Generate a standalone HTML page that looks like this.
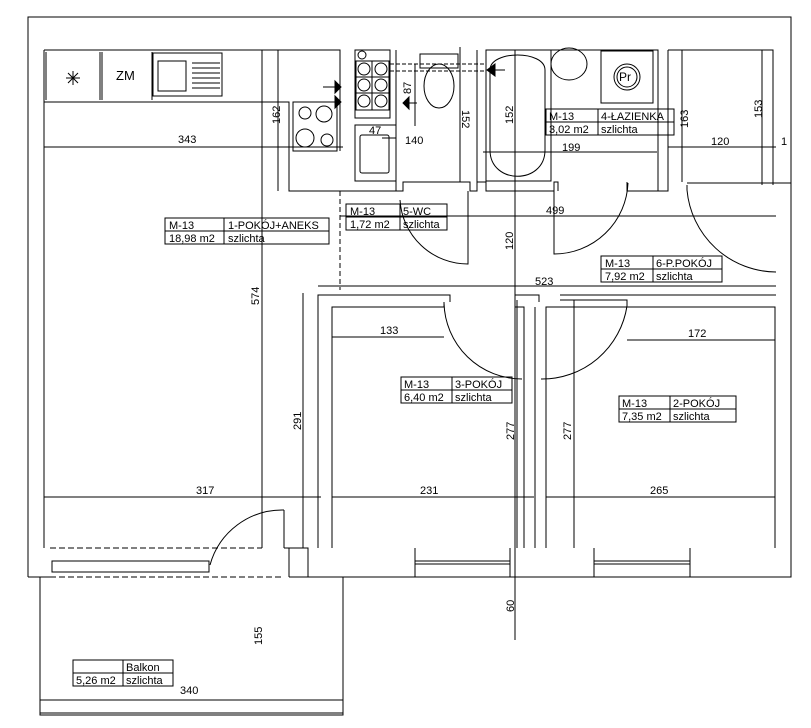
<!DOCTYPE html><html><head><meta charset="utf-8"><style>body{margin:0;background:#fff}svg{display:block}text{font-family:"Liberation Sans",sans-serif;font-size:11px;fill:#000}</style></head><body>
<svg width="811" height="728" viewBox="0 0 811 728" fill="none" stroke="#000" stroke-width="1">
<path d="M28 577V17H791V183H687"/>
<path d="M44 50V548"/>
<path d="M44 50H340V151M44 102H289V191H395"/>
<path d="M46 52V100M100 52V100M102 52V100M152 52V100"/>
<path d="M66 78h14M73 71v14M68 73l10 10M78 73l-10 10"/>
<text x="116" y="80" stroke="none" style="font-size:13px">ZM</text>
<rect x="153" y="53" width="69" height="43"/><rect x="158" y="61" width="28" height="30"/>
<path d="M192 63h28M192 68h28M192 73h28M192 78h28M192 83h28M192 88h28"/>
<rect x="293" y="102" width="44" height="49"/>
<circle cx="305" cy="113" r="6"/><circle cx="324" cy="114" r="8"/><circle cx="305" cy="138" r="9"/><circle cx="327" cy="140" r="6"/>
<path d="M323 87h12M323 102h12" /><path d="M335 81l6 6-6 6zM335 96l6 6-6 6z" fill="#000"/>
<path d="M340 191V290" stroke-dasharray="5,3"/>
<rect x="355" y="50" width="35" height="68"/>
<circle cx="362" cy="55" r="4"/>
<g><rect x="356" y="61" width="33" height="49"/><path d="M372 61v49M356 77h33M356 93h33"/>
<circle cx="364" cy="69" r="6"/><circle cx="381" cy="69" r="6"/><circle cx="364" cy="85" r="6"/><circle cx="381" cy="85" r="6"/><circle cx="364" cy="101" r="6"/><circle cx="381" cy="101" r="6"/></g>
<rect x="355" y="125" width="41" height="56"/><rect x="360" y="135" width="29" height="38" rx="2"/>
<path d="M396 50V125M396 181V191M395 191H403V182H470V191H477V50"/>
<path d="M390 64H486M390 71H486" stroke-dasharray="4,2"/>
<path d="M420 54h38v14h-38z"/><ellipse cx="439" cy="86" rx="15" ry="22"/>
<path d="M491 70h14M409 103h8"/><path d="M495 64l-8 6 8 6zM409 97l-6 6 6 6z" fill="#000"/>
<path d="M415 64V126M460 47V182"/>
<path d="M468 191V264A68 68 0 0 1 400 200"/>
<rect x="486" y="50" width="65" height="131"/>
<path d="M490 70C490 50 545 50 545 70V150C545 185 490 185 490 150Z"/>
<path d="M477 182H486V191H554V182H558V191"/>
<path d="M551 50H658V191H627V182"/>
<ellipse cx="569" cy="64" rx="18" ry="16"/>
<rect x="601" y="51" width="52" height="52"/><circle cx="627" cy="77" r="13"/><circle cx="627" cy="77" r="10"/>
<text x="619" y="81" stroke="none" style="font-size:12px">Pr</text>
<path d="M554 191V254A74 74 0 0 0 628 183"/>
<path d="M515 50V640"/>
<path d="M668 50H773V185M668 50V191H627"/>
<path d="M687 185V190A90 90 0 0 0 776 272"/>
<path d="M44 147H343M382 138H396M483 152H657M668 147H776M340 216H776M318 286H776M762 50V185M682 50V182M278 50V191"/>
<text x="178" y="143" stroke="none">343</text><text x="369" y="134" stroke="none">47</text><text x="405" y="144" stroke="none">140</text>
<text x="562" y="151" stroke="none">199</text><text x="711" y="145" stroke="none">120</text><text x="781" y="145" stroke="none">1</text>
<text x="546" y="214" stroke="none">499</text><text x="535" y="285" stroke="none">523</text>
<g stroke="none"><text transform="translate(280 124) rotate(-90)">162</text><text transform="translate(411 94) rotate(-90)">87</text><text transform="translate(462 110) rotate(90)">152</text><text transform="translate(513 124) rotate(-90)">152</text><text transform="translate(688 128) rotate(-90)">163</text><text transform="translate(762 118) rotate(-90)">153</text><text transform="translate(513 250) rotate(-90)">120</text></g>
<path d="M318 548V295H450V302M332 548V307H444V302M524 548V307H515M535 548V307M539 302V295H515"/>
<path d="M546 548V307H775V548M560 295H776M627 306V300H560"/>
<path d="M444 303A78 78 0 0 0 522 379M627 306A86 86 0 0 1 541 379"/>
<path d="M303 293V548M517 300V548M574 300V548M262 50V548"/>
<path d="M332 337H444M627 340H775M44 497H321M332 497H534M546 497H775"/>
<g stroke="none"><text x="380" y="334">133</text><text x="688" y="337">172</text><text x="196" y="494">317</text><text x="420" y="494">231</text><text x="650" y="494">265</text>
<text transform="translate(301 430) rotate(-90)">291</text><text transform="translate(514 440) rotate(-90)">277</text><text transform="translate(571 440) rotate(-90)">277</text><text transform="translate(259 305) rotate(-90)">574</text>
<text transform="translate(514 612) rotate(-90)">60</text><text transform="translate(262 645) rotate(-90)">155</text><text x="180" y="694">340</text></g>
<path d="M50 548H262" stroke-dasharray="6,3"/>
<path d="M50 577H284" stroke-dasharray="6,3"/>
<rect x="52" y="561" width="157" height="11"/>
<path d="M284 510V548M284 510A75 75 0 0 0 210 565"/>
<path d="M28 577H50M284 548H308V577M289 548V577M289 577H791V183M415 548V577M415 561H510M415 564H510M510 548V577M594 548V577M594 561H690M594 564H690M690 548V577"/>
<path d="M40 577V715H343V577M40 700H343M40 713H343"/>
<g>
<rect x="165" y="218" width="164" height="26"/><path d="M165 231H329M224 218V244"/>
<rect x="346" y="204" width="101" height="26"/><path d="M346 217H447M400 204V230"/>
<rect x="546" y="109" width="128" height="26"/><path d="M546 122H674M598 109V135"/>
<rect x="601" y="256" width="121" height="26"/><path d="M601 269H722M653 256V282"/>
<rect x="401" y="377" width="111" height="26"/><path d="M401 390H512M452 377V403"/>
<rect x="619" y="396" width="117" height="26"/><path d="M619 409H736M670 396V422"/>
<rect x="73" y="660" width="100" height="26"/><path d="M73 673H173M123 660V686"/>
</g>
<g stroke="none">
<text x="169" y="229">M-13</text><text x="228" y="229">1-POKÓJ+ANEKS</text><text x="169" y="242">18,98 m2</text><text x="228" y="242">szlichta</text>
<text x="350" y="215">M-13</text><text x="403" y="215">5-WC</text><text x="350" y="228">1,72 m2</text><text x="403" y="228">szlichta</text>
<text x="549" y="120">M-13</text><text x="601" y="120">4-ŁAZIENKA</text><text x="549" y="133">3,02 m2</text><text x="601" y="133">szlichta</text>
<text x="605" y="267">M-13</text><text x="656" y="267">6-P.POKÓJ</text><text x="605" y="280">7,92 m2</text><text x="656" y="280">szlichta</text>
<text x="404" y="388">M-13</text><text x="455" y="388">3-POKÓJ</text><text x="404" y="401">6,40 m2</text><text x="455" y="401">szlichta</text>
<text x="622" y="407">M-13</text><text x="673" y="407">2-POKÓJ</text><text x="622" y="420">7,35 m2</text><text x="673" y="420">szlichta</text>
<text x="126" y="671">Balkon</text><text x="76" y="684">5,26 m2</text><text x="126" y="684">szlichta</text>
</g>
</svg></body></html>
